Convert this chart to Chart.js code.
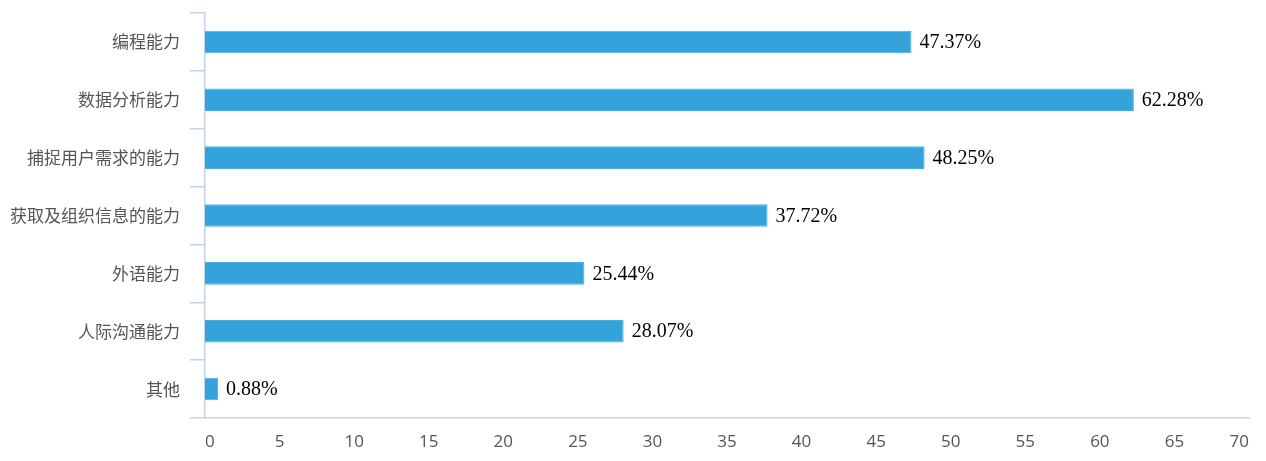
<!DOCTYPE html>
<html>
<head>
<meta charset="utf-8">
<script src="https://cdn.jsdelivr.net/npm/chart.js@4/dist/chart.umd.min.js"></script>
<style>
  html, body { margin: 0; padding: 0; background: #fff; }
  #wrap { width: 1266px; height: 461px; }
</style>
</head>
<body>
<div id="wrap"><canvas id="myChart" width="1266" height="461"></canvas></div>
<script>
const categories = ['编程能力', '数据分析能力', '捕捉用户需求的能力', '获取及组织信息的能力', '外语能力', '人际沟通能力', '其他'];
const percentValues = [47.37, 62.28, 48.25, 37.72, 25.44, 28.07, 0.88];
const xTicks = [0, 5, 10, 15, 20, 25, 30, 35, 40, 45, 50, 55, 60, 65, 70];

const axisColor = '#c3d3e5';
const labelColor = '#555555';

// draws "47.37%" right after each bar end
const valueLabels = {
  id: 'valueLabels',
  afterDatasetsDraw(chart) {
    const ctx = chart.ctx;
    const meta = chart.getDatasetMeta(0);
    ctx.save();
    ctx.font = '20px "Liberation Serif", "DejaVu Serif", serif';
    ctx.fillStyle = '#000';
    ctx.textAlign = 'left';
    ctx.textBaseline = 'middle';
    meta.data.forEach((bar, i) => {
      ctx.fillText(percentValues[i].toFixed(2) + '%', bar.x + 8, bar.y + 1);
    });
    ctx.restore();
  }
};

const chart = new Chart(document.getElementById('myChart'), {
  type: 'bar',
  data: {
    labels: categories,
    datasets: [{
      data: percentValues,
      backgroundColor: '#34a3dc',
      borderColor: '#4aaee0',
      borderWidth: 1,
      categoryPercentage: 1,
      barPercentage: 0.39
    }]
  },
  options: {
    indexAxis: 'y',
    responsive: false,
    animation: false,
    layout: { padding: { top: 13, right: 17, left: 0, bottom: 0 } },
    plugins: {
      legend: { display: false },
      tooltip: { enabled: false }
    },
    scales: {
      x: {
        min: 0,
        max: 70,
        afterBuildTicks: (axis) => { axis.ticks = xTicks.map(v => ({ value: v })); },
        grid: { display: false, drawTicks: false },
        border: { display: true, color: axisColor, width: 1.5 },
        ticks: {
          padding: 14,
          align: 'inner',
          color: labelColor,
          font: { family: '"Open Sans", "Noto Sans", sans-serif', size: 17 }
        },
        afterFit: (axis) => { axis.height = 43; }
      },
      y: {
        grid: {
          offset: true,
          drawOnChartArea: false,
          drawTicks: true,
          tickLength: 15,
          color: axisColor,
          lineWidth: 1.5
        },
        border: { display: true, color: axisColor, width: 1.5 },
        ticks: {
          padding: 10,
          color: labelColor,
          font: { family: '"Noto Sans CJK SC", sans-serif', size: 17 }
        },
        afterFit: (axis) => {
          axis.width = 205;
          // labels sit inside their bands, no overflow room needed
          axis.paddingTop = 0;
          axis.paddingBottom = 0;
        }
      }
    }
  },
  plugins: [valueLabels]
});
</script>
</body>
</html>
